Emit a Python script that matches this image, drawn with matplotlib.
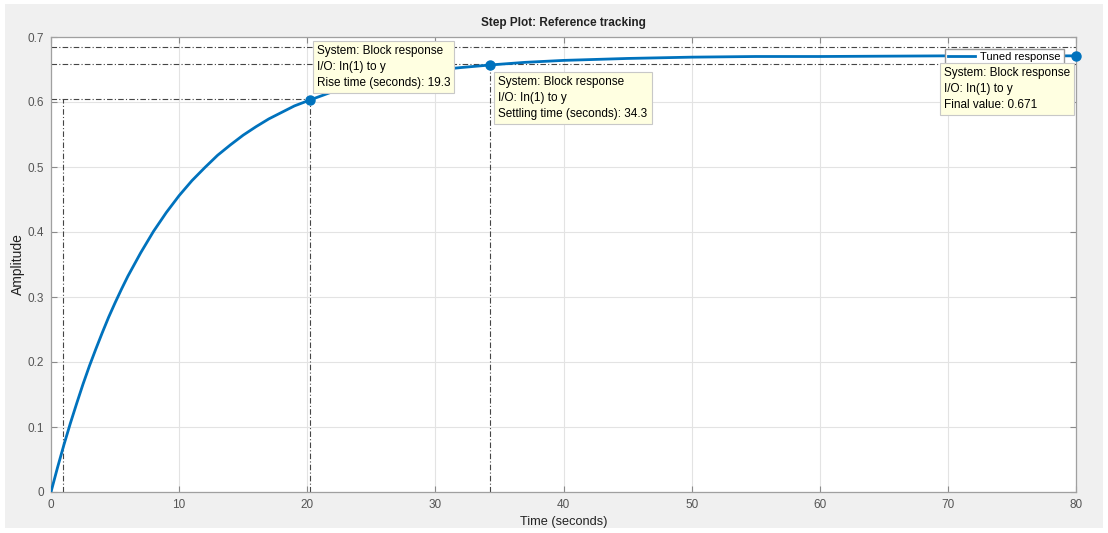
import matplotlib.pyplot as plt
from matplotlib.patches import Rectangle

plt.rcParams['font.family'] = ['Liberation Sans', 'DejaVu Sans']

# step response
t = [0, 0.5, 1, 1.5, 2, 2.5, 3, 3.5, 4, 4.5, 5, 5.5, 6, 7, 8, 9, 10, 11, 12,
     13, 14, 15, 16, 17, 18, 19, 20.2, 22, 24, 26, 28, 30, 32, 34.3, 37, 40,
     45, 50, 55, 60, 70, 80]
amp = [0, 0.037, 0.072, 0.105, 0.136, 0.166, 0.194, 0.220, 0.245, 0.269,
       0.291, 0.312, 0.332, 0.368, 0.401, 0.430, 0.456, 0.479, 0.499, 0.518,
       0.534, 0.549, 0.562, 0.574, 0.584, 0.594, 0.603, 0.616, 0.627, 0.636,
       0.643, 0.649, 0.653, 0.657, 0.661, 0.664, 0.667, 0.669, 0.670, 0.670,
       0.671, 0.671]

t10 = 0.94
rise_t = 20.2
rise_amp = 0.603
settle_t = 34.3
settle_amp = 0.657
final_t = 80
final_val = 0.671
band_hi = 0.685
band_lo = 0.658
amp90 = 0.604

tips = ["System: Block response\nI/O: In(1) to y\nRise time (seconds): 19.3",
        "System: Block response\nI/O: In(1) to y\nSettling time (seconds): 34.3",
        "System: Block response\nI/O: In(1) to y\nFinal value: 0.671"]

fig = plt.figure(figsize=(11.08, 5.33), dpi=100, facecolor='white')
fig.patches.append(Rectangle((5/1108, 5/533), 1098/1108, 524/533,
                             transform=fig.transFigure, facecolor='#f0f0f0',
                             edgecolor='none', zorder=-10))
ax = fig.add_axes([51/1108, 41/533, 1025/1108, 455/533])
ax.set_facecolor('white')

blue = '#0072BD'
ax.plot(t, amp, color=blue, lw=2.0, label='Tuned response', zorder=3)

dash = dict(color='#454545', lw=0.8, ls=(0, (5, 2, 1, 2)), zorder=2)
ax.plot([0, 80], [band_hi, band_hi], **dash)
ax.plot([0, 80], [band_lo, band_lo], **dash)
ax.plot([0, rise_t], [amp90, amp90], **dash)
ax.plot([t10, t10], [0, amp90], **dash)
ax.plot([rise_t, rise_t], [0, amp90], **dash)
ax.plot([settle_t, settle_t], [0, band_lo], **dash)

ax.plot([rise_t, settle_t, final_t], [rise_amp, settle_amp, final_val], 'o',
        color=blue, ms=6.5, clip_on=False, zorder=4)

ax.set_xlim(0, 80)
ax.set_ylim(0, 0.7)
ax.set_xticks(range(0, 81, 10))
ax.set_yticks([0, 0.1, 0.2, 0.3, 0.4, 0.5, 0.6, 0.7])
ax.set_yticklabels(['0', '0.1', '0.2', '0.3', '0.4', '0.5', '0.6', '0.7'])
ax.grid(True, color='#e3e3e3', lw=0.8)
ax.set_axisbelow(True)
ax.tick_params(direction='in', top=True, right=True, length=4, width=0.8,
               color='#8a8a8a', labelcolor='#555555', labelsize=8.5, pad=5)
for s in ax.spines.values():
    s.set_color('#a0a0a0')
    s.set_linewidth(0.9)

ax.set_title('Step Plot: Reference tracking', fontsize=8.5, fontweight='bold',
             color='#222222', pad=8)
ax.set_xlabel('Time (seconds)', fontsize=9.2, color='#222222', labelpad=4)
ax.set_ylabel('Amplitude', fontsize=10, color='#222222', labelpad=2)

leg = ax.legend(loc='upper right', bbox_to_anchor=(0.9883, 0.9736),
                borderaxespad=0, fontsize=8, handlelength=2.4, fancybox=False,
                framealpha=1, edgecolor='#9a9a9a', borderpad=0.3,
                handletextpad=0.5)
leg.set_zorder(5)

box = dict(boxstyle='square,pad=0.35', facecolor='#ffffe1', edgecolor='#c8c8c8',
           lw=0.8)
ax.annotate(tips[0], xy=(rise_t, rise_amp), xytext=(7, 55),
            textcoords='offset pixels', ha='left', va='top', fontsize=8.5,
            linespacing=1.45, bbox=box, zorder=6, annotation_clip=False)
ax.annotate(tips[1], xy=(settle_t, settle_amp), xytext=(8, -11),
            textcoords='offset pixels', ha='left', va='top', fontsize=8.5,
            linespacing=1.45, bbox=box, zorder=6, annotation_clip=False)
ax.annotate(tips[2], xy=(final_t, final_val), xytext=(-6, -11),
            textcoords='offset pixels', ha='right', va='top', fontsize=8.5,
            multialignment='left', linespacing=1.45, bbox=box, zorder=6,
            annotation_clip=False)

plt.savefig('out.png', dpi=100)
